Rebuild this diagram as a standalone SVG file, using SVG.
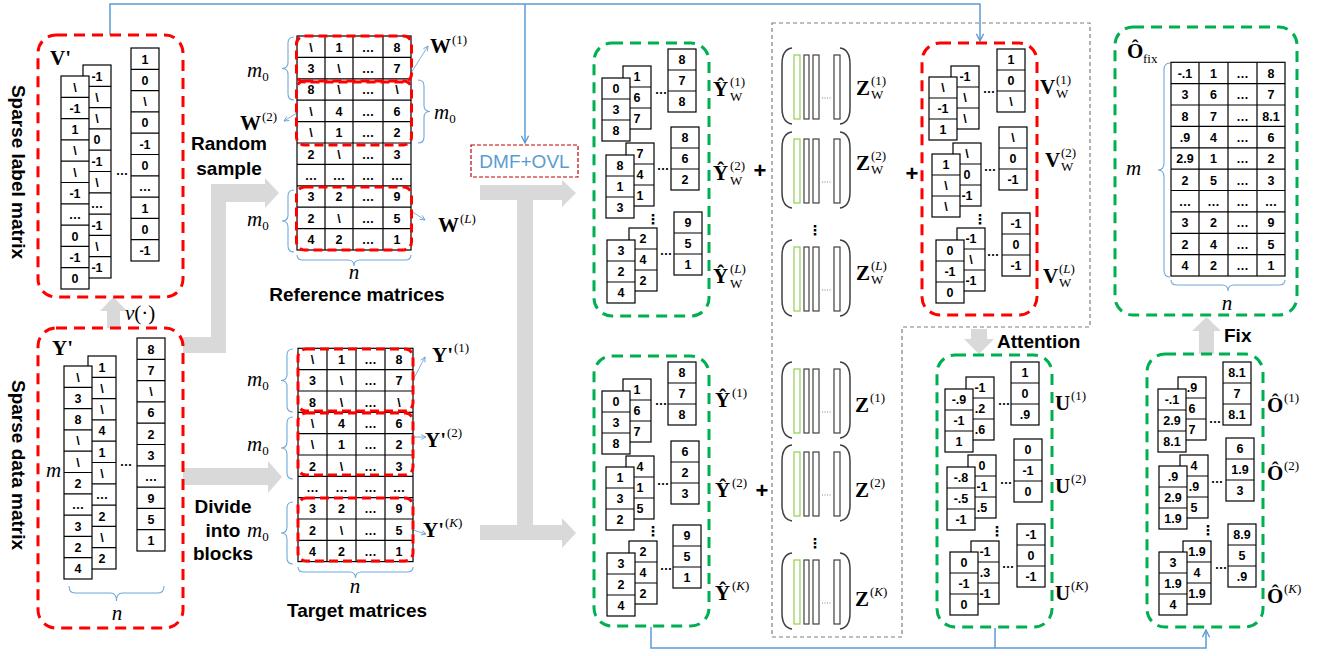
<svg xmlns="http://www.w3.org/2000/svg" width="1322" height="656" viewBox="0 0 1322 656">
<style>
.rb{fill:none;stroke:#ff0000;stroke-width:3;stroke-dasharray:11 7}
.gb{fill:none;stroke:#00b050;stroke-width:3;stroke-dasharray:11 7}
.rm{fill:none;stroke:#ff0000;stroke-width:3;stroke-dasharray:9 5}
.c{fill:#fff;stroke:#000;stroke-width:1.2}
.gl{fill:none;stroke:#000;stroke-width:1.2}
.t{font-family:"Liberation Sans",Arial,sans-serif;font-weight:bold;font-size:12.5px;text-anchor:middle;fill:#000}
.lb{font-family:"Liberation Serif","Times New Roman",serif;font-weight:bold;font-size:21px;fill:#000}
.sp{font-family:"Liberation Serif","Times New Roman",serif;font-size:13px;fill:#000}
.it{font-family:"Liberation Serif","Times New Roman",serif;font-style:italic;font-size:21px;fill:#000}
.s0{font-style:normal;font-size:13px}
.bt{font-family:"Liberation Sans",Arial,sans-serif;font-weight:bold;font-size:19px;fill:#000}
.br{fill:none;stroke:#6fa8dc;stroke-width:1.1}
.ar{fill:#d9d9d9}
.bl{fill:none;stroke:#5b9bd5;stroke-width:1.5}
.tl{fill:none;stroke:#5b9bd5;stroke-width:0.8}
.zp{fill:none;stroke:#404040;stroke-width:1.5}
.zg{fill:#fff;stroke:#92d050;stroke-width:1.2}
.zk{fill:#fff;stroke:#404040;stroke-width:1.2}
.zd{fill:none;stroke:#808080;stroke-width:1;stroke-dasharray:1 1.5}
.vd{font-family:"DejaVu Sans",sans-serif;font-weight:bold;font-size:14px;text-anchor:middle;fill:#000}
.pl{font-family:"Liberation Sans",Arial,sans-serif;font-weight:bold;font-size:22px;text-anchor:middle;fill:#000}
</style>
<defs>
<marker id="ah" viewBox="0 0 10 10" refX="9" refY="5" markerWidth="9" markerHeight="9" markerUnits="userSpaceOnUse" orient="auto"><path d="M1 1L9 5L1 9" fill="none" stroke="#5b9bd5" stroke-width="1.5"/></marker>
<marker id="ahs" viewBox="0 0 10 10" refX="9" refY="5" markerWidth="6" markerHeight="6" markerUnits="userSpaceOnUse" orient="auto"><path d="M1 1L9 5L1 9" fill="none" stroke="#5b9bd5" stroke-width="1.3"/></marker>
<g id="c3"><rect class="c" width="28" height="63"/><path class="gl" d="M0 21H28M0 42H28"/></g>
<g id="c10"><rect class="c" width="28" height="213"/><path class="gl" d="M0 21.3H28M0 42.6H28M0 63.9H28M0 85.2H28M0 106.5H28M0 127.8H28M0 149.1H28M0 170.4H28M0 191.7H28"/></g>
<g id="zm">
<path class="zp" d="M10 0C3 1 0 7 0 16V60C0 69 3 75 10 76"/>
<path class="zp" d="M58 0C65 1 68 7 68 16V60C68 69 65 75 58 76"/>
<rect class="zg" x="12" y="7" width="6" height="64"/>
<rect class="zk" x="22" y="7" width="5" height="64"/>
<rect class="zk" x="31" y="7" width="6" height="64"/>
<rect class="zk" x="52" y="7" width="6" height="64"/>
<path class="zd" d="M40 50H50"/>
</g>
</defs>
<rect width="1322" height="656" fill="#fff"/>

<g id="connectors">
<polygon class="ar" points="107,328 107,311 100,311 113.5,297 127,311 120,311 120,328"/>
<polygon class="ar" points="183,337 211,337 211,184 265,184 265,178 279,193 265,208 265,202 226,202 226,353 183,353"/>
<polygon class="ar" points="183,468 268,468 268,461 282,477 268,493 268,485 183,485"/>
<polygon class="ar" points="480,185 562,185 562,180 576,193 562,207 562,200 533,200 533,525 562,525 562,518 576,533 562,548 562,540 480,540 480,525 517,525 517,200 480,200"/>
<polygon class="ar" points="971,329 987,329 987,339 994,339 979,354 964,339 971,339"/>
<polygon class="ar" points="1199,354 1199,331 1192,331 1206.5,317 1221,331 1214,331 1214,354"/>
<path class="bl" d="M110 35V4H980V41" marker-end="url(#ah)"/>
<path class="bl" d="M525 4V143" marker-end="url(#ah)"/>
<path class="bl" d="M651 627V648H1206V630" marker-end="url(#ah)"/>
<path class="bl" d="M995 628V648"/>
<path class="tl" d="M411 73L428 46" marker-end="url(#ahs)"/>
<path class="tl" d="M297 113L284 121" marker-end="url(#ahs)"/>
<path class="tl" d="M411 211L425 220" marker-end="url(#ahs)"/>
<path class="tl" d="M413 380L425 357" marker-end="url(#ahs)"/>
<path class="tl" d="M413 437L426 437" marker-end="url(#ahs)"/>
<path class="tl" d="M413 530L426 534" marker-end="url(#ahs)"/>
<polygon points="772,23 1090,23 1090,327 902,327 902,637 772,637" fill="none" stroke="#7f7f7f" stroke-width="1.2" stroke-dasharray="4 3"/>
</g>

<g id="labels-side">
<text class="bt" x="18" y="172" text-anchor="middle" dominant-baseline="central" font-size="20" transform="rotate(90 18 172)">Sparse label matrix</text>
<text class="bt" x="18" y="465" text-anchor="middle" dominant-baseline="central" font-size="20" transform="rotate(90 18 465)">Sparse data matrix</text>
<text class="it" x="125" y="320">v<tspan font-style="normal">(·)</tspan></text>
<text class="bt" x="229" y="150" text-anchor="middle">Random</text>
<text class="bt" x="229" y="175" text-anchor="middle">sample</text>
<text class="bt" x="223" y="513" text-anchor="middle">Divide</text>
<text class="bt" x="223" y="537" text-anchor="middle">into</text>
<text class="bt" x="223" y="560" text-anchor="middle">blocks</text>
<text class="bt" x="997" y="348">Attention</text>
<text class="bt" x="1224" y="342">Fix</text>
<text class="pl" x="760" y="178">+</text>
<text class="pl" x="762" y="498">+</text>
<text class="pl" x="912" y="181">+</text>
</g>

<g id="v-prime">
<rect class="rb" x="38" y="35" width="145" height="262" rx="18"/>
<text class="lb" x="50" y="65">V'</text>
<use href="#c10" x="83" y="65"/>
<g class="t"><text x="97" y="80.5">-1</text><text x="97" y="101.8">\</text><text x="97" y="123.1">\</text><text x="97" y="144.4">0</text><text x="97" y="165.7">-1</text><text x="97" y="187">\</text><text x="97" y="208.3">…</text><text x="97" y="229.6">-1</text><text x="97" y="250.9">\</text><text x="97" y="272.2">-1</text></g>
<use href="#c10" x="61" y="76"/>
<g class="t"><text x="75" y="91.5">\</text><text x="75" y="112.8">-1</text><text x="75" y="134.1">1</text><text x="75" y="155.4">\</text><text x="75" y="176.7">\</text><text x="75" y="198">-1</text><text x="75" y="219.3">…</text><text x="75" y="240.6">0</text><text x="75" y="261.9">-1</text><text x="75" y="283.2">0</text></g>
<use href="#c10" x="131" y="48"/>
<g class="t"><text x="145" y="63.5">1</text><text x="145" y="84.8">0</text><text x="145" y="106.1">\</text><text x="145" y="127.4">0</text><text x="145" y="148.7">-1</text><text x="145" y="170">0</text><text x="145" y="191.3">…</text><text x="145" y="212.6">1</text><text x="145" y="233.9">0</text><text x="145" y="255.2">-1</text><text x="122" y="175">…</text></g>
</g>

<g id="y-prime">
<rect class="rb" x="38" y="328" width="145" height="300" rx="18"/>
<text class="lb" x="52" y="355">Y'</text>
<text class="it" x="46" y="477">m</text>
<use href="#c10" x="88" y="356"/>
<g class="t"><text x="102" y="371.5">1</text><text x="102" y="392.8">\</text><text x="102" y="414.1">\</text><text x="102" y="435.4">4</text><text x="102" y="456.7">1</text><text x="102" y="478">\</text><text x="102" y="499.3">…</text><text x="102" y="520.6">2</text><text x="102" y="541.9">\</text><text x="102" y="563.2">2</text></g>
<use href="#c10" x="64" y="366"/>
<g class="t"><text x="78" y="381.5">\</text><text x="78" y="402.8">3</text><text x="78" y="424.1">8</text><text x="78" y="445.4">\</text><text x="78" y="466.7">\</text><text x="78" y="488">2</text><text x="78" y="509.3">…</text><text x="78" y="530.6">3</text><text x="78" y="551.9">2</text><text x="78" y="573.2">4</text></g>
<use href="#c10" x="137" y="338"/>
<g class="t"><text x="151" y="353.5">8</text><text x="151" y="374.8">7</text><text x="151" y="396.1">\</text><text x="151" y="417.4">6</text><text x="151" y="438.7">2</text><text x="151" y="460">3</text><text x="151" y="481.3">…</text><text x="151" y="502.6">9</text><text x="151" y="523.9">5</text><text x="151" y="545.2">1</text><text x="126" y="466">…</text></g>
<path class="br" d="M69 586Q69 593 75 593L110.5 593Q116.5 593 116.5 601Q116.5 593 122.5 593L158 593Q164 593 164 586"/>
<text class="it" x="117" y="620" text-anchor="middle">n</text>
</g>

<g id="reference-matrices">
<rect class="c" x="297" y="36" width="114" height="214"/>
<path class="gl" d="M325 36V250M353 36V250M383 36V250M297 57.4H411M297 78.8H411M297 100.2H411M297 121.6H411M297 143H411M297 164.4H411M297 185.8H411M297 207.2H411M297 228.6H411"/>
<g class="t">
<text x="311" y="51.5">\</text><text x="339" y="51.5">1</text><text x="368" y="51.5">…</text><text x="397" y="51.5">8</text>
<text x="311" y="72.9">3</text><text x="339" y="72.9">\</text><text x="368" y="72.9">…</text><text x="397" y="72.9">7</text>
<text x="311" y="94.3">8</text><text x="339" y="94.3">\</text><text x="368" y="94.3">…</text><text x="397" y="94.3">\</text>
<text x="311" y="115.7">\</text><text x="339" y="115.7">4</text><text x="368" y="115.7">…</text><text x="397" y="115.7">6</text>
<text x="311" y="137.1">\</text><text x="339" y="137.1">1</text><text x="368" y="137.1">…</text><text x="397" y="137.1">2</text>
<text x="311" y="158.5">2</text><text x="339" y="158.5">\</text><text x="368" y="158.5">…</text><text x="397" y="158.5">3</text>
<text x="311" y="179.9">…</text><text x="339" y="179.9">…</text><text x="368" y="179.9">…</text><text x="397" y="179.9">…</text>
<text x="311" y="201.3">3</text><text x="339" y="201.3">2</text><text x="368" y="201.3">…</text><text x="397" y="201.3">9</text>
<text x="311" y="222.7">2</text><text x="339" y="222.7">\</text><text x="368" y="222.7">…</text><text x="397" y="222.7">5</text>
<text x="311" y="244.1">4</text><text x="339" y="244.1">2</text><text x="368" y="244.1">…</text><text x="397" y="244.1">1</text>
</g>
<rect class="rm" x="296.5" y="36" width="115" height="46" rx="8"/>
<rect class="rm" x="296.5" y="81" width="115" height="64" rx="8"/>
<rect class="rm" x="296.5" y="187" width="115" height="63" rx="8"/>
<path class="br" d="M294 37Q288 37 288 43L288 62.5Q288 68.5 282 68.5Q288 68.5 288 74.5L288 94Q288 100 294 100"/>
<path class="br" d="M418 80Q424 80 424 86L424 105.5Q424 111.5 430 111.5Q424 111.5 424 117.5L424 137Q424 143 418 143"/>
<path class="br" d="M294 190Q288 190 288 196L288 215Q288 221 282 221Q288 221 288 227L288 246Q288 252 294 252"/>
<path class="br" d="M297 255Q297 260 303 260L348 260Q354 260 354 266Q354 260 360 260L405 260Q411 260 411 255"/>
<text class="it" x="247" y="77">m<tspan class="s0" dy="4">0</tspan></text>
<text class="it" x="434" y="119">m<tspan class="s0" dy="4">0</tspan></text>
<text class="it" x="247" y="226">m<tspan class="s0" dy="4">0</tspan></text>
<text class="it" x="354" y="279" text-anchor="middle">n</text>
<text class="bt" x="357" y="301" text-anchor="middle">Reference matrices</text>
<text class="lb" x="430" y="53">W</text><text class="sp" x="452" y="44">(1)</text>
<text class="lb" x="240" y="130">W</text><text class="sp" x="262" y="121">(2)</text>
<text class="lb" x="438" y="232">W</text><text class="sp" x="460" y="223">(<tspan font-style="italic">L</tspan>)</text>
</g>

<g id="target-matrices">
<rect class="c" x="298" y="348.3" width="115" height="213.3"/>
<path class="gl" d="M327 348.3V561.6M356 348.3V561.6M385 348.3V561.6M298 369.6H413M298 391H413M298 412.3H413M298 433.6H413M298 455H413M298 476.3H413M298 497.6H413M298 519H413M298 540.3H413"/>
<g class="t">
<text x="312.5" y="363.8">\</text><text x="341.5" y="363.8">1</text><text x="370.5" y="363.8">…</text><text x="399" y="363.8">8</text>
<text x="312.5" y="385.1">3</text><text x="341.5" y="385.1">\</text><text x="370.5" y="385.1">…</text><text x="399" y="385.1">7</text>
<text x="312.5" y="406.5">8</text><text x="341.5" y="406.5">\</text><text x="370.5" y="406.5">…</text><text x="399" y="406.5">\</text>
<text x="312.5" y="427.8">\</text><text x="341.5" y="427.8">4</text><text x="370.5" y="427.8">…</text><text x="399" y="427.8">6</text>
<text x="312.5" y="449.1">\</text><text x="341.5" y="449.1">1</text><text x="370.5" y="449.1">…</text><text x="399" y="449.1">2</text>
<text x="312.5" y="470.5">2</text><text x="341.5" y="470.5">\</text><text x="370.5" y="470.5">…</text><text x="399" y="470.5">3</text>
<text x="312.5" y="491.8">…</text><text x="341.5" y="491.8">…</text><text x="370.5" y="491.8">…</text><text x="399" y="491.8">…</text>
<text x="312.5" y="513.1">3</text><text x="341.5" y="513.1">2</text><text x="370.5" y="513.1">…</text><text x="399" y="513.1">9</text>
<text x="312.5" y="534.5">2</text><text x="341.5" y="534.5">\</text><text x="370.5" y="534.5">…</text><text x="399" y="534.5">5</text>
<text x="312.5" y="555.8">4</text><text x="341.5" y="555.8">2</text><text x="370.5" y="555.8">…</text><text x="399" y="555.8">1</text>
</g>
<rect class="rm" x="298" y="349" width="115" height="62" rx="8"/>
<rect class="rm" x="298" y="413" width="115" height="62" rx="8"/>
<rect class="rm" x="298" y="498" width="115" height="63" rx="8"/>
<path class="br" d="M293 349Q287 349 287 355L287 374.5Q287 380.5 281 380.5Q287 380.5 287 386.5L287 406Q287 412 293 412"/>
<path class="br" d="M293 417Q287 417 287 423L287 442Q287 448 281 448Q287 448 287 454L287 473Q287 479 293 479"/>
<path class="br" d="M293 502Q287 502 287 508L287 527Q287 533 281 533Q287 533 287 539L287 558Q287 564 293 564"/>
<path class="br" d="M298 567Q298 572 304 572L349.5 572Q355.5 572 355.5 578Q355.5 572 361.5 572L407 572Q413 572 413 567"/>
<text class="it" x="247" y="386">m<tspan class="s0" dy="4">0</tspan></text>
<text class="it" x="247" y="451">m<tspan class="s0" dy="4">0</tspan></text>
<text class="it" x="247" y="537">m<tspan class="s0" dy="4">0</tspan></text>
<text class="it" x="355" y="593" text-anchor="middle">n</text>
<text class="bt" x="357" y="617" text-anchor="middle">Target matrices</text>
<text class="lb" x="432" y="362">Y'</text><text class="sp" x="454" y="352">(1)</text>
<text class="lb" x="425" y="447">Y'</text><text class="sp" x="447" y="437">(2)</text>
<text class="lb" x="423" y="537">Y'</text><text class="sp" x="445" y="527">(<tspan font-style="italic">K</tspan>)</text>
</g>

<g id="dmf-ovl">
<rect x="471" y="145" width="107" height="32" fill="none" stroke="#c00000" stroke-width="1.2" stroke-dasharray="4 2"/>
<text x="524.5" y="168" text-anchor="middle" font-family="Liberation Sans, Arial, sans-serif" font-size="19" fill="#5b9bd5">DMF+OVL</text>
</g>

<g id="yw-hat">
<rect class="gb" x="594" y="43" width="115" height="273" rx="18"/>
<use href="#c3" x="623" y="66"/><g class="t"><text x="637" y="81">1</text><text x="637" y="102">6</text><text x="637" y="123">7</text></g>
<use href="#c3" x="602" y="78"/><g class="t"><text x="616" y="93">0</text><text x="616" y="114">3</text><text x="616" y="135">8</text></g>
<use href="#c3" x="668" y="49"/><g class="t"><text x="682" y="64">8</text><text x="682" y="85">7</text><text x="682" y="106">8</text><text x="661" y="94">…</text></g>
<use href="#c3" x="626" y="143"/><g class="t"><text x="640" y="158">7</text><text x="640" y="179">4</text><text x="640" y="200">1</text></g>
<use href="#c3" x="606" y="155"/><g class="t"><text x="620" y="170">8</text><text x="620" y="191">1</text><text x="620" y="212">3</text></g>
<use href="#c3" x="671" y="127"/><g class="t"><text x="685" y="142">8</text><text x="685" y="163">6</text><text x="685" y="184">2</text><text x="663" y="170">…</text></g>
<text class="vd" x="653" y="224">⋮</text>
<use href="#c3" x="629" y="228"/><g class="t"><text x="643" y="243">2</text><text x="643" y="264">4</text><text x="643" y="285">2</text></g>
<use href="#c3" x="607" y="240"/><g class="t"><text x="621" y="255">3</text><text x="621" y="276">2</text><text x="621" y="297">4</text></g>
<use href="#c3" x="674" y="212"/><g class="t"><text x="688" y="227">9</text><text x="688" y="248">5</text><text x="688" y="269">1</text><text x="666" y="255">…</text></g>
<text class="lb" x="713" y="96">Ŷ</text><text class="sp" x="730" y="86">(1)</text><text class="sp" x="730" y="101">W</text>
<text class="lb" x="713" y="180">Ŷ</text><text class="sp" x="730" y="170">(2)</text><text class="sp" x="730" y="185">W</text>
<text class="lb" x="713" y="283">Ŷ</text><text class="sp" x="730" y="273">(<tspan font-style="italic">L</tspan>)</text><text class="sp" x="730" y="288">W</text>
</g>

<g id="y-hat">
<rect class="gb" x="594" y="356" width="115" height="270" rx="18"/>
<use href="#c3" x="623" y="379"/><g class="t"><text x="637" y="394">1</text><text x="637" y="415">6</text><text x="637" y="436">7</text></g>
<use href="#c3" x="602" y="391"/><g class="t"><text x="616" y="406">0</text><text x="616" y="427">3</text><text x="616" y="448">8</text></g>
<use href="#c3" x="668" y="362"/><g class="t"><text x="682" y="377">8</text><text x="682" y="398">7</text><text x="682" y="419">8</text><text x="661" y="405">…</text></g>
<use href="#c3" x="626" y="456"/><g class="t"><text x="640" y="471">4</text><text x="640" y="492">1</text><text x="640" y="513">5</text></g>
<use href="#c3" x="606" y="467"/><g class="t"><text x="620" y="482">1</text><text x="620" y="503">3</text><text x="620" y="524">2</text></g>
<use href="#c3" x="671" y="441"/><g class="t"><text x="685" y="456">6</text><text x="685" y="477">2</text><text x="685" y="498">3</text><text x="663" y="485">…</text></g>
<text class="vd" x="653" y="536">⋮</text>
<use href="#c3" x="629" y="541"/><g class="t"><text x="643" y="556">2</text><text x="643" y="577">4</text><text x="643" y="598">2</text></g>
<use href="#c3" x="607" y="553"/><g class="t"><text x="621" y="568">3</text><text x="621" y="589">2</text><text x="621" y="610">4</text></g>
<use href="#c3" x="673" y="525"/><g class="t"><text x="687" y="540">9</text><text x="687" y="561">5</text><text x="687" y="582">1</text><text x="666" y="570">…</text></g>
<text class="lb" x="715" y="407">Ŷ</text><text class="sp" x="732" y="397">(1)</text>
<text class="lb" x="715" y="497">Ŷ</text><text class="sp" x="732" y="487">(2)</text>
<text class="lb" x="715" y="600">Ŷ</text><text class="sp" x="732" y="590">(<tspan font-style="italic">K</tspan>)</text>
</g>

<g id="zw">
<use href="#zm" x="782" y="48"/>
<use href="#zm" x="782" y="132"/>
<text class="vd" x="815" y="235" font-size="21">⋮</text>
<use href="#zm" x="782" y="240"/>
<text class="lb" x="856" y="95">Z</text><text class="sp" x="871" y="85">(1)</text><text class="sp" x="871" y="99">W</text>
<text class="lb" x="856" y="170">Z</text><text class="sp" x="871" y="160">(2)</text><text class="sp" x="871" y="174">W</text>
<text class="lb" x="856" y="280">Z</text><text class="sp" x="871" y="270">(<tspan font-style="italic">L</tspan>)</text><text class="sp" x="871" y="284">W</text>
</g>

<g id="z">
<use href="#zm" x="782" y="362"/>
<use href="#zm" x="782" y="445"/>
<text class="vd" x="815" y="548" font-size="21">⋮</text>
<use href="#zm" x="782" y="553"/>
<text class="lb" x="855" y="412">Z</text><text class="sp" x="870" y="402">(1)</text>
<text class="lb" x="855" y="497">Z</text><text class="sp" x="870" y="487">(2)</text>
<text class="lb" x="855" y="606">Z</text><text class="sp" x="870" y="596">(<tspan font-style="italic">K</tspan>)</text>
</g>

<g id="vw">
<rect class="rb" x="922" y="43" width="115" height="272" rx="18"/>
<use href="#c3" x="951" y="66"/><g class="t"><text x="965" y="81">-1</text><text x="965" y="102">\</text><text x="965" y="123">\</text></g>
<use href="#c3" x="929" y="77"/><g class="t"><text x="943" y="92">\</text><text x="943" y="113">-1</text><text x="943" y="134">1</text></g>
<use href="#c3" x="997" y="49"/><g class="t"><text x="1011" y="64">1</text><text x="1011" y="85">0</text><text x="1011" y="106">\</text><text x="989" y="93">…</text></g>
<use href="#c3" x="953" y="143"/><g class="t"><text x="967" y="158">\</text><text x="967" y="179">0</text><text x="967" y="200">-1</text></g>
<use href="#c3" x="932" y="154"/><g class="t"><text x="946" y="169">1</text><text x="946" y="190">\</text><text x="946" y="211">\</text></g>
<use href="#c3" x="999" y="127"/><g class="t"><text x="1013" y="142">\</text><text x="1013" y="163">0</text><text x="1013" y="184">-1</text><text x="990" y="171">…</text></g>
<text class="vd" x="980" y="224">⋮</text>
<use href="#c3" x="957" y="228"/><g class="t"><text x="971" y="243">-1</text><text x="971" y="264">\</text><text x="971" y="285">-1</text></g>
<use href="#c3" x="936" y="240"/><g class="t"><text x="950" y="255">0</text><text x="950" y="276">-1</text><text x="950" y="297">0</text></g>
<use href="#c3" x="1002" y="213"/><g class="t"><text x="1016" y="228">-1</text><text x="1016" y="249">0</text><text x="1016" y="270">-1</text><text x="993" y="256">…</text></g>
<text class="lb" x="1040" y="94">V</text><text class="sp" x="1056" y="84">(1)</text><text class="sp" x="1056" y="98">W</text>
<text class="lb" x="1045" y="167">V</text><text class="sp" x="1061" y="157">(2)</text><text class="sp" x="1061" y="171">W</text>
<text class="lb" x="1043" y="283">V</text><text class="sp" x="1059" y="273">(<tspan font-style="italic">L</tspan>)</text><text class="sp" x="1059" y="287">W</text>
</g>

<g id="u">
<rect class="gb" x="937" y="355" width="115" height="272" rx="18"/>
<use href="#c3" x="966" y="377"/><g class="t"><text x="980" y="392">-1</text><text x="980" y="413">.2</text><text x="980" y="434">.6</text></g>
<use href="#c3" x="945" y="389"/><g class="t"><text x="959" y="404">-.9</text><text x="959" y="425">-1</text><text x="959" y="446">1</text></g>
<use href="#c3" x="1011" y="362"/><g class="t"><text x="1025" y="377">1</text><text x="1025" y="398">0</text><text x="1025" y="419">.9</text><text x="1004" y="405">…</text></g>
<use href="#c3" x="968" y="455"/><g class="t"><text x="982" y="470">0</text><text x="982" y="491">-1</text><text x="982" y="512">.5</text></g>
<use href="#c3" x="947" y="467"/><g class="t"><text x="961" y="482">-.8</text><text x="961" y="503">-.5</text><text x="961" y="524">-1</text></g>
<use href="#c3" x="1014" y="439"/><g class="t"><text x="1028" y="454">0</text><text x="1028" y="475">-1</text><text x="1028" y="496">0</text><text x="1006" y="484">…</text></g>
<text class="vd" x="997" y="536">⋮</text>
<use href="#c3" x="971" y="541"/><g class="t"><text x="985" y="556">-1</text><text x="985" y="577">.3</text><text x="985" y="598">-1</text></g>
<use href="#c3" x="950" y="552"/><g class="t"><text x="964" y="567">0</text><text x="964" y="588">-1</text><text x="964" y="609">0</text></g>
<use href="#c3" x="1017" y="524"/><g class="t"><text x="1031" y="539">-1</text><text x="1031" y="560">0</text><text x="1031" y="581">-1</text><text x="1008" y="568">…</text></g>
<text class="lb" x="1055" y="410">U</text><text class="sp" x="1071" y="400">(1)</text>
<text class="lb" x="1055" y="493">U</text><text class="sp" x="1071" y="483">(2)</text>
<text class="lb" x="1055" y="600">U</text><text class="sp" x="1071" y="590">(<tspan font-style="italic">K</tspan>)</text>
</g>

<g id="o-hat">
<rect class="gb" x="1147" y="354" width="116" height="273" rx="18"/>
<use href="#c3" x="1178" y="377"/><g class="t"><text x="1192" y="392">.9</text><text x="1192" y="413">6</text><text x="1192" y="434">7</text></g>
<use href="#c3" x="1158" y="389"/><g class="t"><text x="1172" y="404">-.1</text><text x="1172" y="425">2.9</text><text x="1172" y="446">8.1</text></g>
<use href="#c3" x="1223" y="362"/><g class="t"><text x="1237" y="377">8.1</text><text x="1237" y="398">7</text><text x="1237" y="419">8.1</text><text x="1215" y="423">…</text></g>
<use href="#c3" x="1180" y="455"/><g class="t"><text x="1194" y="470">4</text><text x="1194" y="491">.9</text><text x="1194" y="512">5</text></g>
<use href="#c3" x="1159" y="466"/><g class="t"><text x="1173" y="481">.9</text><text x="1173" y="502">2.9</text><text x="1173" y="523">1.9</text></g>
<use href="#c3" x="1226" y="438"/><g class="t"><text x="1240" y="453">6</text><text x="1240" y="474">1.9</text><text x="1240" y="495">3</text><text x="1217" y="483">…</text></g>
<text class="vd" x="1208" y="535">⋮</text>
<use href="#c3" x="1183" y="541"/><g class="t"><text x="1197" y="556">1.9</text><text x="1197" y="577">4</text><text x="1197" y="598">1.9</text></g>
<use href="#c3" x="1159" y="552"/><g class="t"><text x="1173" y="567">3</text><text x="1173" y="588">1.9</text><text x="1173" y="609">4</text></g>
<use href="#c3" x="1228" y="524"/><g class="t"><text x="1242" y="539">8.9</text><text x="1242" y="560">5</text><text x="1242" y="581">.9</text><text x="1221" y="569">…</text></g>
<text class="lb" x="1267" y="412">Ô</text><text class="sp" x="1284" y="402">(1)</text>
<text class="lb" x="1267" y="480">Ô</text><text class="sp" x="1284" y="470">(2)</text>
<text class="lb" x="1267" y="603">Ô</text><text class="sp" x="1284" y="593">(<tspan font-style="italic">K</tspan>)</text>
</g>

<g id="o-fix">
<rect class="gb" x="1115" y="27" width="182" height="288" rx="18"/>
<text class="lb" x="1127" y="58">Ô</text><text class="sp" x="1143" y="63">fix</text>
<rect class="c" x="1171" y="62.3" width="114" height="213.7"/>
<path class="gl" d="M1199 62.3V276M1228 62.3V276M1257 62.3V276M1171 83.7H1285M1171 105H1285M1171 126.4H1285M1171 147.8H1285M1171 169.2H1285M1171 190.5H1285M1171 211.9H1285M1171 233.3H1285M1171 254.6H1285"/>
<g class="t">
<text x="1185" y="77.8">-.1</text><text x="1213.5" y="77.8">1</text><text x="1242.5" y="77.8">…</text><text x="1271" y="77.8">8</text>
<text x="1185" y="99.2">3</text><text x="1213.5" y="99.2">6</text><text x="1242.5" y="99.2">…</text><text x="1271" y="99.2">7</text>
<text x="1185" y="120.5">8</text><text x="1213.5" y="120.5">7</text><text x="1242.5" y="120.5">…</text><text x="1271" y="120.5">8.1</text>
<text x="1185" y="141.9">.9</text><text x="1213.5" y="141.9">4</text><text x="1242.5" y="141.9">…</text><text x="1271" y="141.9">6</text>
<text x="1185" y="163.3">2.9</text><text x="1213.5" y="163.3">1</text><text x="1242.5" y="163.3">…</text><text x="1271" y="163.3">2</text>
<text x="1185" y="184.6">2</text><text x="1213.5" y="184.6">5</text><text x="1242.5" y="184.6">…</text><text x="1271" y="184.6">3</text>
<text x="1185" y="206">…</text><text x="1213.5" y="206">…</text><text x="1242.5" y="206">…</text><text x="1271" y="206">…</text>
<text x="1185" y="227.4">3</text><text x="1213.5" y="227.4">2</text><text x="1242.5" y="227.4">…</text><text x="1271" y="227.4">9</text>
<text x="1185" y="248.8">2</text><text x="1213.5" y="248.8">4</text><text x="1242.5" y="248.8">…</text><text x="1271" y="248.8">5</text>
<text x="1185" y="270.1">4</text><text x="1213.5" y="270.1">2</text><text x="1242.5" y="270.1">…</text><text x="1271" y="270.1">1</text>
</g>
<path class="br" d="M1170 63Q1164 63 1164 70L1164 163Q1164 170 1158 170Q1164 170 1164 177L1164 270Q1164 277 1170 277"/>
<path class="br" d="M1171 280Q1171 285 1177 285L1222 285Q1228 285 1228 291Q1228 285 1234 285L1279 285Q1285 285 1285 280"/>
<text class="it" x="1126" y="175">m</text>
<text class="it" x="1227" y="310" text-anchor="middle">n</text>
</g>
</svg>
